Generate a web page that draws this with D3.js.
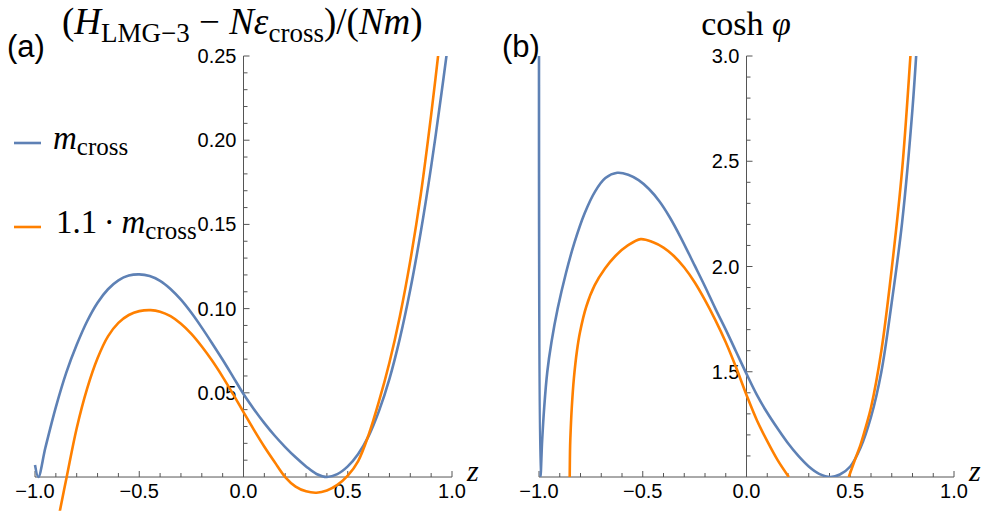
<!DOCTYPE html>
<html><head><meta charset="utf-8">
<script src="https://cdn.jsdelivr.net/npm/d3@7"></script>
<style>
html,body{margin:0;padding:0;background:#fff;}
svg text{font-family:"Liberation Sans",Arial,sans-serif;}
.serif{font-family:"Liberation Serif","Times New Roman",serif;}
</style></head>
<body>
<svg id="chart" width="988" height="531"></svg>
<script>
// ---------- data ----------
// panel (a): (H_LMG-3 - N eps_cross)/(N m) vs z
const aBlueZ = [-1.0,-0.984,-0.95,-0.9,-0.85,-0.8,-0.75,-0.7,-0.65,-0.6,-0.55,-0.5,-0.45,-0.4,-0.35,-0.3,-0.25,-0.2,-0.15,-0.1,-0.05,0.0,0.05,0.1,0.15,0.2,0.25,0.3,0.35,0.4,0.45,0.5,0.55,0.6,0.65,0.7,0.75,0.8,0.85,0.9,0.95,0.975];
const aBlueV = [0.0071,0.0,0.0175,0.0415,0.062,0.0785,0.0925,0.1035,0.1115,0.1168,0.1196,0.1203,0.1193,0.1165,0.1117,0.1053,0.0975,0.0887,0.0793,0.0696,0.0595,0.0493,0.0403,0.032,0.0245,0.0178,0.0117,0.0063,0.0018,0.0,0.0017,0.0063,0.0137,0.0243,0.0393,0.0583,0.0823,0.1113,0.1453,0.1843,0.2283,0.2515];
const aOrangeZ = [-0.883,-0.848,-0.8,-0.75,-0.7,-0.65,-0.6,-0.55,-0.5,-0.445,-0.4,-0.35,-0.3,-0.25,-0.2,-0.15,-0.1,-0.05,0.0,0.05,0.1,0.15,0.2,0.25,0.3,0.35,0.4,0.45,0.5,0.55,0.6,0.65,0.7,0.75,0.8,0.85,0.9,0.95];
const aOrangeV = [-0.0215,0.0,0.029,0.0525,0.0705,0.0835,0.0915,0.0962,0.0985,0.0991,0.0982,0.0955,0.091,0.085,0.0775,0.069,0.0595,0.0492,0.0385,0.028,0.018,0.0088,0.0,-0.0057,-0.0085,-0.0093,-0.008,-0.0047,0.0008,0.0095,0.025,0.045,0.068,0.0955,0.1285,0.1675,0.215,0.268];
// panel (b): cosh(phi) vs z
const bBlueZ = [-1.0,-0.993,-0.985,-0.975,-0.96,-0.94,-0.91,-0.87,-0.83,-0.78,-0.73,-0.68,-0.623,-0.57,-0.52,-0.47,-0.42,-0.37,-0.318,-0.25,-0.2,-0.15,-0.1,-0.05,0.0,0.05,0.1,0.15,0.2,0.25,0.3,0.35,0.405,0.45,0.5,0.55,0.6,0.65,0.7,0.75,0.8,0.83];
const bBlueV = [3.05,1.0,1.17,1.33,1.50,1.64,1.80,1.969,2.111,2.253,2.356,2.42,2.445,2.436,2.41,2.368,2.31,2.234,2.14,2.005,1.905,1.80,1.70,1.595,1.49,1.39,1.305,1.23,1.16,1.10,1.05,1.015,1.0,1.012,1.05,1.14,1.285,1.50,1.83,2.21,2.75,3.2];
const bOrangeLeftZ = [-0.852,-0.85,-0.847,-0.842,-0.832,-0.817,-0.802,-0.772,-0.732,-0.682,-0.632,-0.572,-0.51,-0.45,-0.4,-0.35,-0.3,-0.25,-0.2,-0.15,-0.1,-0.05,0.0,0.05,0.1,0.15,0.204];
const bOrangeLeftV = [1.0,1.15,1.23,1.33,1.467,1.60,1.69,1.81,1.91,1.99,2.05,2.10,2.13,2.115,2.09,2.05,1.995,1.925,1.84,1.745,1.64,1.52,1.39,1.27,1.17,1.08,1.0];
const bOrangeRightZ = [0.493,0.52,0.55,0.574,0.6,0.65,0.7,0.75,0.79,0.81];
const bOrangeRightV = [1.0,1.075,1.155,1.235,1.33,1.60,1.99,2.46,3.0,3.3];

const xTicksMajor = [-1.0,-0.5,0.0,0.5,1.0];
const aYTicksMajor = [0.05,0.10,0.15,0.20,0.25];
const bYTicksMajor = [1.5,2.0,2.5,3.0];

const BLUE = "#5e81b5", ORANGE = "#ff8000", AXIS = "#555";

const svg = d3.select("#chart");
const zip = (xs, ys) => xs.map((x,i)=>[x, ys[i]]);

function panel(opts){
  const g = svg.append("g");
  const x = d3.scaleLinear().domain([-1,1]).range(opts.xr);
  const y = d3.scaleLinear().domain(opts.yd).range(opts.yr);
  const y0 = y(opts.yAxisAt);
  const x0 = x(0);
  const cid = "clip"+opts.id;
  svg.append("clipPath").attr("id",cid).append("rect")
    .attr("x", opts.xr[0]-5).attr("y", opts.yr[1]).attr("width", opts.xr[1]-opts.xr[0]+10)
    .attr("height", opts.yr[0]-opts.yr[1]);
  // x axis
  g.append("line").attr("x1",x(-1)).attr("x2",x(1)).attr("y1",y0).attr("y2",y0)
    .attr("stroke",AXIS).attr("stroke-width",1);
  const xMinor = d3.range(-10,11).map(d=>d/10);
  g.selectAll(null).data(xMinor).join("line")
    .attr("x1",d=>x(d)).attr("x2",d=>x(d))
    .attr("y1",y0).attr("y2",d=> y0 - (xTicksMajor.some(m=>Math.abs(m-d)<1e-9)?6:4))
    .attr("stroke",AXIS).attr("stroke-width",1);
  g.selectAll(null).data(xTicksMajor).join("text")
    .attr("x",d=>x(d)).attr("y",y0+21).attr("text-anchor","middle")
    .attr("font-size",20).attr("fill","#000")
    .text(d=> (d<0?"\u2212":"") + Math.abs(d).toFixed(1));
  // y axis
  g.append("line").attr("x1",x0).attr("x2",x0).attr("y1",y(opts.yTop)).attr("y2",y0)
    .attr("stroke",AXIS).attr("stroke-width",1);
  g.selectAll(null).data(opts.yMinor).join("line")
    .attr("x1",x0).attr("x2",d=> x0 + (opts.yMajor.some(m=>Math.abs(m-d)<1e-9)?6:4))
    .attr("y1",d=>y(d)).attr("y2",d=>y(d))
    .attr("stroke",AXIS).attr("stroke-width",1);
  g.selectAll(null).data(opts.yMajor).join("text")
    .attr("x",x0-7).attr("y",d=>y(d)+7).attr("text-anchor","end")
    .attr("font-size",20).attr("fill","#000")
    .text(d=>d.toFixed(opts.yDec));
  // z label
  g.append("text").attr("class","serif").attr("x",x(1)+15).attr("y",y0+4)
    .attr("font-size",30).attr("font-style","italic").text("z");
  // curves
  const line = d3.line().x(d=>x(d[0])).y(d=>y(d[1])).curve(d3.curveCatmullRom.alpha(0.5));
  const cg = g.append("g").attr("clip-path",`url(#${cid})`);
  opts.series.forEach(s=>{
    cg.append("path").attr("d",line(s.pts)).attr("fill","none")
      .attr("stroke",s.color).attr("stroke-width",2.6).attr("stroke-linejoin","round");
  });
}

panel({id:"a", xr:[35,452], yd:[-0.02,0.25], yr:[510.7,56], yAxisAt:0, yTop:0.25,
  yMajor:aYTicksMajor, yMinor:d3.range(1,26).map(d=>d/100), yDec:2,
  series:[{pts:zip(aBlueZ,aBlueV),color:BLUE},{pts:zip(aOrangeZ,aOrangeV),color:ORANGE}]});

panel({id:"b", xr:[539,954], yd:[1,3], yr:[477,56], yAxisAt:1, yTop:3,
  yMajor:bYTicksMajor, yMinor:d3.range(11,31).map(d=>d/10), yDec:1,
  series:[{pts:zip(bBlueZ,bBlueV),color:BLUE},{pts:zip(bOrangeLeftZ,bOrangeLeftV),color:ORANGE},
          {pts:zip(bOrangeRightZ,bOrangeRightV),color:ORANGE}]});

// panel labels
svg.append("text").attr("x",7).attr("y",57).attr("font-size",31).text("(a)");
svg.append("text").attr("x",502).attr("y",57).attr("font-size",31).text("(b)");

// title (a)
const t = svg.append("text").attr("class","serif").attr("x",62).attr("y",34).attr("font-size",37);
t.append("tspan").text("(");
t.append("tspan").attr("font-style","italic").text("H");
t.append("tspan").attr("font-size",27).attr("dy",8).text("LMG\u22123");
t.append("tspan").attr("dy",-8).text(" \u2212 ");
t.append("tspan").attr("font-style","italic").text("N\u03b5");
t.append("tspan").attr("font-size",27).attr("dy",8).text("cross");
t.append("tspan").attr("dy",-8).text(")/(");
t.append("tspan").attr("font-style","italic").text("Nm");
t.append("tspan").text(")");

// title (b)
const tb = svg.append("text").attr("class","serif").attr("x",746).attr("y",35)
  .attr("font-size",34).attr("text-anchor","middle");
tb.append("tspan").text("cosh ");
tb.append("tspan").attr("font-style","italic").text("\u03c6");

// legend
const leg = [{c:BLUE,y:143,pre:""},{c:ORANGE,y:227,pre:"1.1\u2009\u00b7\u2009"}];
leg.forEach((L,i)=>{
  svg.append("line").attr("x1",14).attr("x2",41).attr("y1",L.y).attr("y2",L.y)
    .attr("stroke",L.c).attr("stroke-width",2.6);
  const tx = svg.append("text").attr("class","serif").attr("x",i?56:53).attr("y",L.y+6).attr("font-size",33);
  if (L.pre) tx.append("tspan").text(L.pre);
  tx.append("tspan").attr("font-style","italic").text("m");
  tx.append("tspan").attr("font-size",25).attr("dy",6).text("cross");
});
</script>
</body></html>
